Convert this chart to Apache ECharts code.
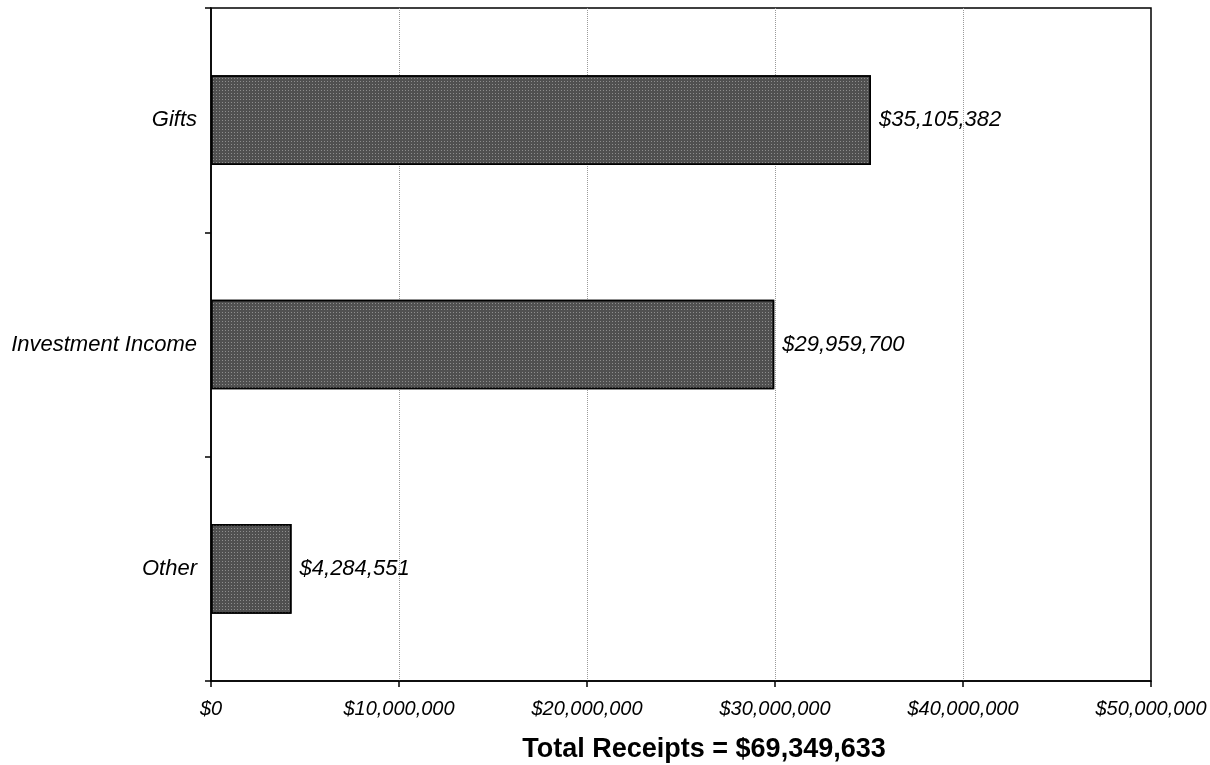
<!DOCTYPE html>
<html>
<head>
<meta charset="utf-8">
<script src="https://cdn.jsdelivr.net/npm/echarts@6/dist/echarts.min.js"></script>
<style>
html,body{margin:0;padding:0;background:#fff;}
#chart{width:1210px;height:765px;}
</style>
</head>
<body>
<div id="chart"></div>
<script>
const categories = ['Gifts', 'Investment Income', 'Other'];
const values = [35105382, 29959700, 4284551];
const xTicks = [0, 10000000, 20000000, 30000000, 40000000, 50000000];
const titleText = 'Total Receipts = $69,349,633';

function money(v) {
  return '$' + Math.round(v).toString().replace(/\B(?=(\d{3})+(?!\d))/g, ',');
}

const chart = echarts.init(document.getElementById('chart'), null, {renderer: 'canvas'});
chart.setOption({
  animation: false,
  backgroundColor: '#fff',
  textStyle: {fontFamily: 'Liberation Sans, Arial, sans-serif'},
  title: {
    text: titleText,
    left: 699, top: 731,
    textAlign: 'center',
    textStyle: {fontFamily: 'Liberation Sans, Arial, sans-serif', fontWeight: 'bold', fontSize: 27, color: '#000'}
  },
  grid: {
    left: 211, right: 59, top: 8, bottom: 84,
    show: true, borderColor: '#000', borderWidth: 1.5, backgroundColor: 'transparent'
  },
  xAxis: {
    type: 'value',
    min: xTicks[0], max: xTicks[xTicks.length - 1], interval: xTicks[1] - xTicks[0],
    axisLine: {show: true, lineStyle: {color: '#000', width: 1.5}},
    axisTick: {show: true, length: 6, lineStyle: {color: '#000', width: 1.5}},
    axisLabel: {
      formatter: money, fontStyle: 'italic', fontSize: 20, color: '#000', margin: 18,
      fontFamily: 'Liberation Sans, Arial, sans-serif'
    },
    splitLine: {show: true, showMinLine: false, showMaxLine: false, lineStyle: {color: '#9a9a9a', type: [1, 1], width: 1}}
  },
  yAxis: {
    type: 'category',
    data: categories,
    inverse: true,
    axisLine: {show: true, lineStyle: {color: '#000', width: 1.5}},
    axisTick: {show: true, length: 6, alignWithLabel: false, lineStyle: {color: '#000', width: 1.5}},
    axisLabel: {
      fontStyle: 'italic', fontSize: 22, color: '#000', margin: 14,
      fontFamily: 'Liberation Sans, Arial, sans-serif'
    },
    splitLine: {show: false}
  },
  series: [{
    type: 'bar',
    data: values,
    barWidth: '40%',
    itemStyle: {
      color: '#505050',
      borderColor: '#000',
      borderWidth: 1.5,
      decal: {
        symbol: 'rect',
        symbolSize: 1,
        dashArrayX: [1, 2],
        dashArrayY: [1, 2],
        color: 'rgba(255,255,255,0.35)'
      }
    },
    label: {
      show: true,
      position: 'right',
      distance: 8,
      formatter: p => money(p.value),
      fontStyle: 'italic', fontSize: 22, color: '#000',
      fontFamily: 'Liberation Sans, Arial, sans-serif'
    }
  }]
});
</script>
</body>
</html>
